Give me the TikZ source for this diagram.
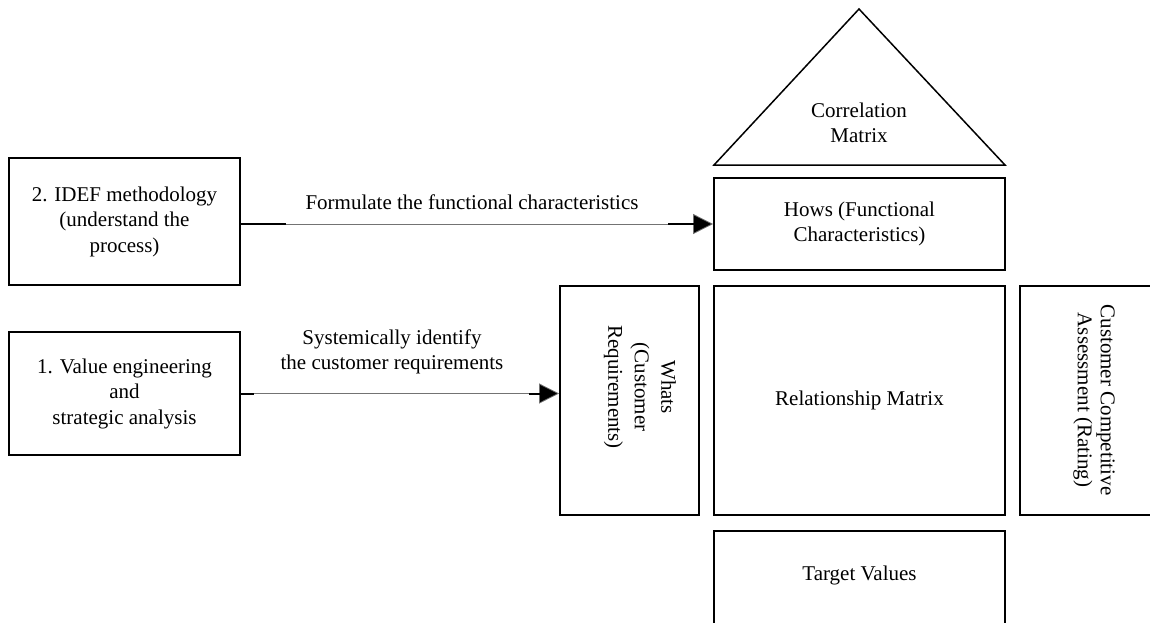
\documentclass[tikz,border=0pt]{standalone}
\usepackage{fontspec}
\setmainfont{Liberation Serif}
\usetikzlibrary{arrows.meta}
\begin{document}
\begin{tikzpicture}[x=1pt,y=-1pt,
  every node/.style={font=\fontsize{21}{25.5}\selectfont, align=center},
  box/.style={draw, line width=1.8pt, inner sep=0pt},
  txt/.style={inner sep=0pt},
  flow/.style={line width=0.8pt, draw=black!55, -{Triangle[length=20pt,width=20pt,fill=black]}},
  stub/.style={line width=2pt, draw=black}]
\useasboundingbox (0,0) rectangle (1150,622);
\clip (0,0) rectangle (1150,622);

% method boxes on the left
\node[box, minimum width=231, minimum height=127] (idef) at (124.5,221.5)
  {2. IDEF methodology\\(understand the\\process)};
\node[box, minimum width=231, minimum height=123] (value) at (124.5,393.5)
  {1. Value engineering\\and\\strategic analysis};

% house of quality
\draw[line width=1.5pt, line join=miter] (714,165) -- (859,9) -- (1005,165) -- cycle;
\node[txt] (corr) at (859,123) {Correlation\\Matrix};
\node[box, minimum width=291, minimum height=92] (hows) at (859.5,224)
  {Hows (Functional\\Characteristics)};
\node[box, minimum width=139, minimum height=229] (whats) at (629.5,400.5) {};
\node[txt, rotate=-90, font=\fontsize{21}{26.5}\selectfont] (whatstext) at (640,387)
  {Whats\\(Customer\\Requirements)};
\node[box, minimum width=291, minimum height=229] (rel) at (859.5,400.5)
  {Relationship Matrix};
\node[box, minimum width=145, minimum height=229] (cca) at (1092.5,400.5) {};
\node[txt, rotate=-90, font=\fontsize{21}{23}\selectfont] (ccatext) at (1094,400)
  {Customer Competitive\\Assessment (Rating)};
\node[box, minimum width=291, minimum height=109] (target) at (859.5,585.5) {};
\node[txt] (targettext) at (859.5,575) {Target Values};

% connectors
\coordinate (a1) at (idef.east |- hows.west);
\coordinate (a2) at (value.east -| whats.west);
\draw[flow] (a1) -- (hows.west);
\draw[stub] (a1) -- ++(45,0);
\draw[stub] (hows.west) ++(-19,0) -- ++(-26,0);
\draw[flow] (value.east) -- (a2);
\draw[stub] (value.east) -- ++(13,0);
\draw[stub] (a2) ++(-19,0) -- ++(-11,0);

\node[txt] (l1) at (472,202) {Formulate the functional characteristics};
\node[txt] (l2) at (392,352) {Systemically identify\\the customer requirements};
\end{tikzpicture}
\end{document}
